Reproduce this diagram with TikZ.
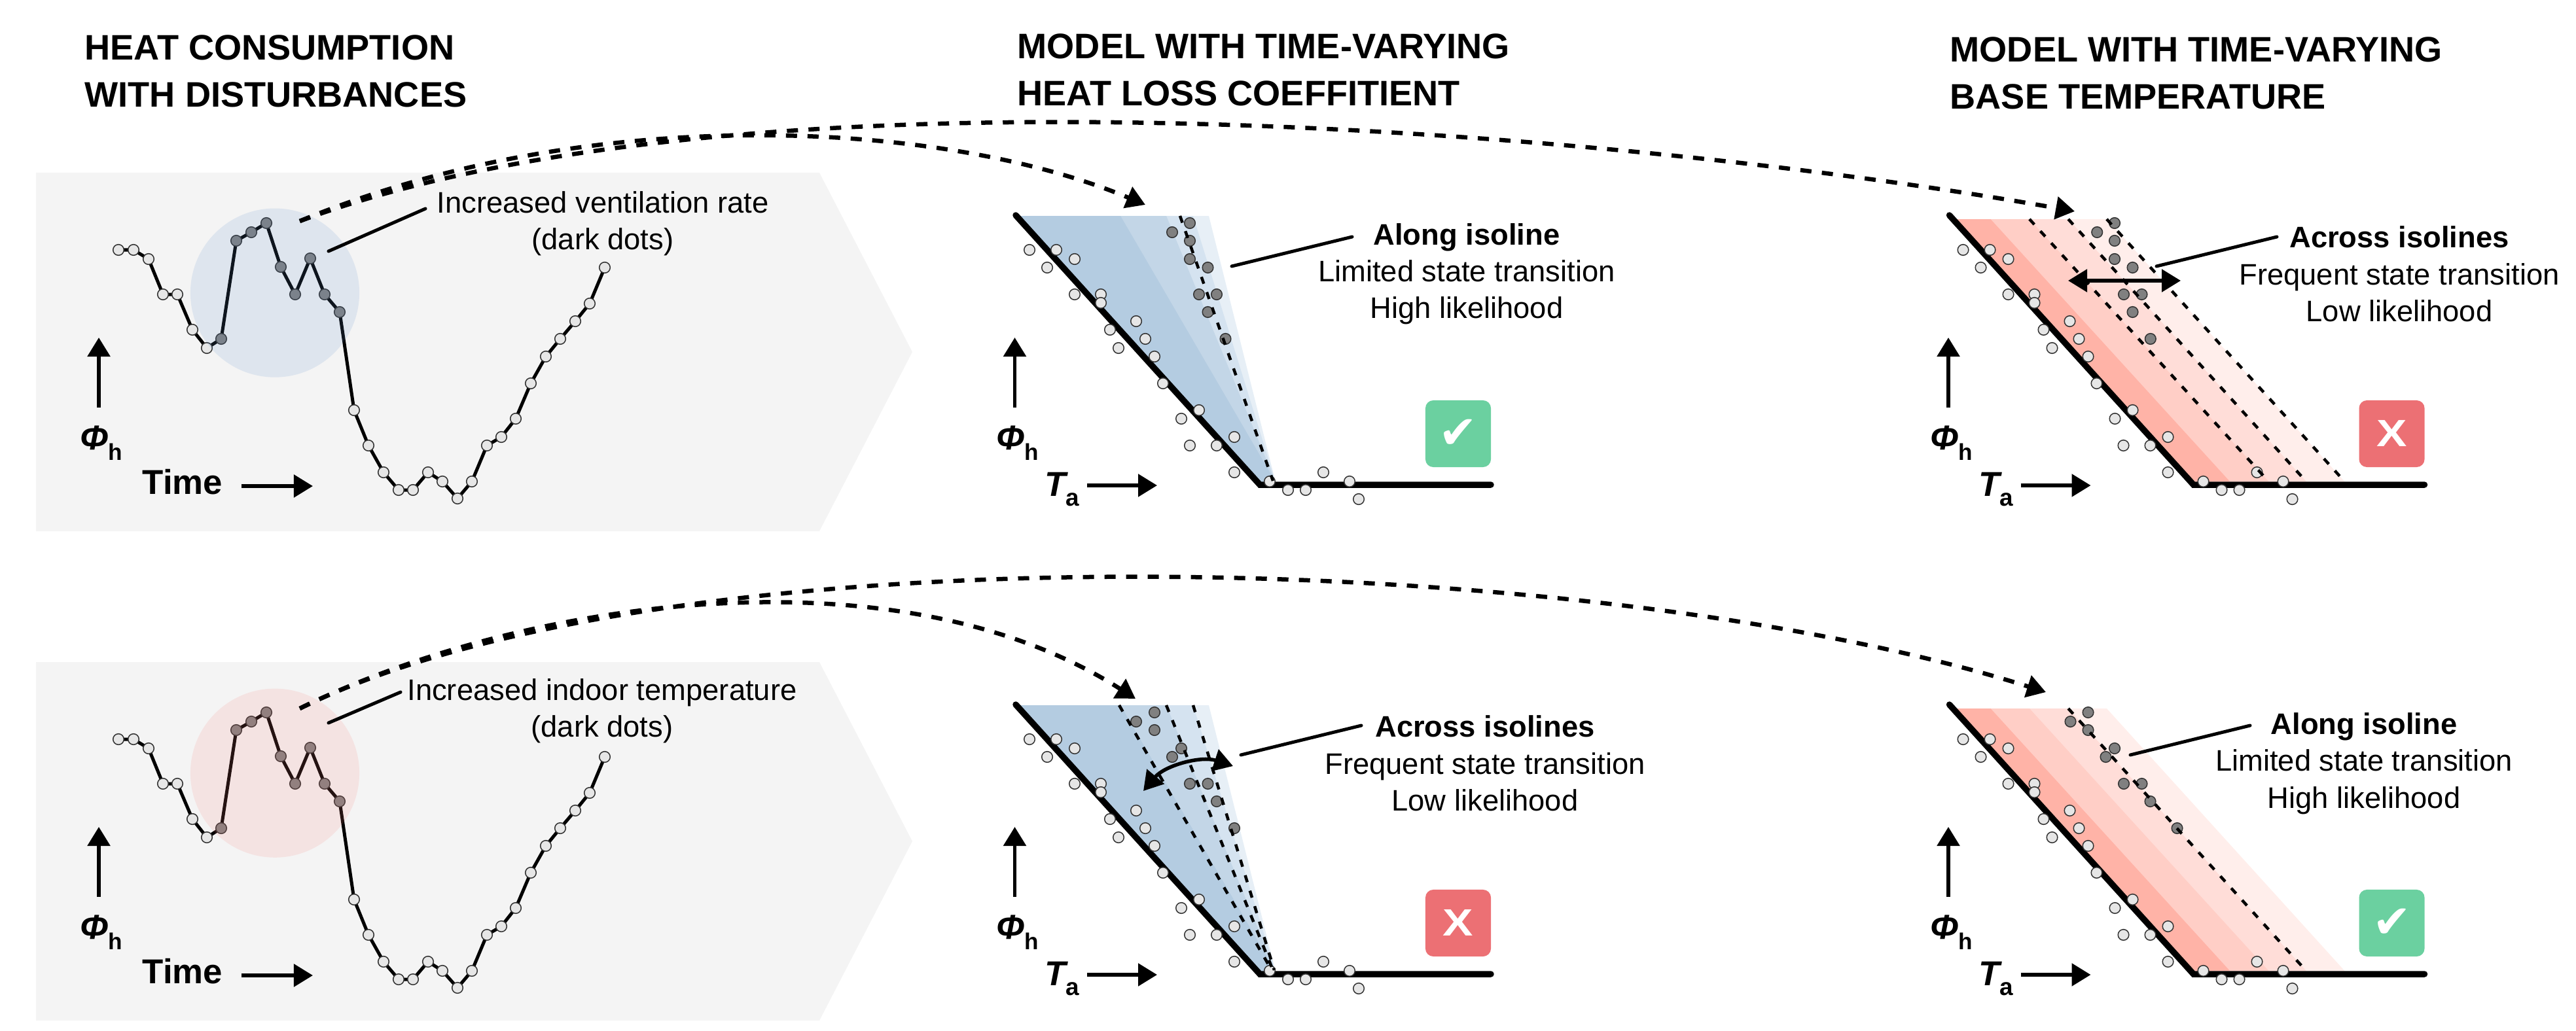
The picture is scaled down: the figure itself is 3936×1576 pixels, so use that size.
\documentclass[tikz,border=0pt]{standalone}
\usepackage{fontspec}
\setmainfont{Liberation Sans}
\newfontfamily\checkfont{DejaVu Sans}
\usetikzlibrary{arrows.meta}

\definecolor{panelgrey}{HTML}{F4F4F4}
\definecolor{dotlight}{HTML}{E6E6E6}
\definecolor{dotdark}{HTML}{808080}
\definecolor{hiblue}{HTML}{6190CC}
\definecolor{hired}{HTML}{FA827C}
\definecolor{blueA}{HTML}{B4CCE1}
\definecolor{blueB}{HTML}{C3D6E7}
\definecolor{blueC}{HTML}{D5E3F0}
\definecolor{blueD}{HTML}{E7EFF6}
\definecolor{redA}{HTML}{FFB3A7}
\definecolor{redB}{HTML}{FFCEC6}
\definecolor{redC}{HTML}{FFDDD8}
\definecolor{redD}{HTML}{FFEEEB}
\definecolor{okgreen}{HTML}{6BD0A0}
\definecolor{badred}{HTML}{EC7074}

\tikzset{
	titlelabel/.style={font=\fontsize{15.4}{20.5}\selectfont\bfseries,align=left,anchor=west,inner sep=0pt},
	notelabel/.style={font=\fontsize{12.9}{16}\selectfont,align=center,inner sep=0pt},
	axislabel/.style={font=\fontsize{15}{18}\selectfont\bfseries,inner sep=0pt},
	panelshape/.style={fill=panelgrey},
	curveline/.style={line width=0.05cm},
	kinkline/.style={line width=0.095cm,line cap=round,line join=miter},
	axisarrow/.style={->,line width=0.055cm},
	leaderline/.style={line width=0.05cm,line cap=round},
	travelarrow/.style={->,line width=0.065cm,dash pattern=on 0.17cm off 0.16cm},
	isoline/.style={line width=0.045cm,dash pattern=on 0.11cm off 0.137cm},
	bothways/.style={<->,line width=0.055cm},
	whitedot/.style={draw=black!80,fill=dotlight,line width=0.015cm},
	darkdot/.style={draw=black!80,fill=dotdark,line width=0.015cm},
	badgebox/.style={rounded corners=0.12cm,minimum width=1cm,minimum height=1.02cm,inner sep=0pt,text=white},
	crossmark/.style={badgebox,fill=badred,font=\fontsize{16.5}{18}\selectfont\bfseries},
	tickmark/.style={badgebox,fill=okgreen,font=\fontsize{20}{20}\selectfont\checkfont\bfseries},
}

% Curve with disturbance: #1 highlight colour, #2 highlight centre y, #3 name suffix
\newcommand{\heatcurve}[3]{
	\fill[panelshape] (55,264) -- (1252,264) -- (1394,538) -- (1252,812) -- (55,812) -- cycle;
	\draw[curveline] plot coordinates {(181,382) (204,382) (227,396) (249,450) (271,450) (294,504) (316,532) (338,518) (361,368) (384,355) (407,341) (429,408) (451,450) (474,395) (496,450) (519,477) (541,627) (563,681) (586,722) (609,749) (631,749) (654,722) (676,736) (699,762) (721,736) (744,681) (766,668) (788,640) (811,586) (834,545) (856,518) (879,491) (901,464) (924,409)};
	\foreach \x/\y in {181/382,204/382,227/396,249/450,271/450,294/504,316/532,541/627,563/681,586/722,609/749,631/749,654/722,676/736,699/762,721/736,744/681,766/668,788/640,811/586,834/545,856/518,879/491,901/464,924/409}
		\draw[whitedot] (\x,\y) circle (0.083cm);
	\foreach \x/\y in {338/518,361/368,384/355,407/341,429/408,451/450,474/395,496/450,519/477}
		\draw[darkdot] (\x,\y) circle (0.083cm);
	\fill[#1,fill opacity=0.15] (420,#2) circle (1.29cm);
	% Assen
	\draw[axisarrow] (151,623) -- (151,516);
	\node[axislabel] (phi#3) at (155,677) {\phisym};
	\node[axislabel] (time#3) at (279,737) {Time};
	\draw[axisarrow] (369,743) -- (478,743);
}

% Kink, scatter and axes of one model panel, origin at the kink
\newcommand{\modelbase}[1]{
	\draw[kinkline] (-373,-412) -- (0,0) -- (353,0);
	\foreach \x/\y in {-352/-359,-311/-359,-283/-345,-325/-332,-283/-291,-243/-291,-243/-278,-229/-237,-189/-250,-175/-223,-216/-209,-161/-196,-148/-155,-93/-114,-120/-101,-39/-73,-66/-60,-107/-60,-39/-19,15/-5,97/-19,137/-5,43/8,70/8,151/22}
		\draw[whitedot] (\x,\y) circle (0.083cm);
	\draw[axisarrow] (-374.5,-118) -- (-374.5,-225);
	\node[axislabel] (phi#1) at (-370,-64) {\phisym};
	\node[axislabel] (ta#1) at (-302,7) {\tasym};
	\draw[axisarrow] (-264,1) -- (-157,1);
}

\newcommand{\phisym}{{\itshape Φ}\raisebox{-0.3em}{\fontsize{10}{10}\selectfont h}}
\newcommand{\tasym}{{\itshape T}\raisebox{-0.3em}{\fontsize{10.5}{10}\selectfont a}}

\begin{document}
\begin{tikzpicture}[x=0.01cm,y=-0.01cm,>={Triangle[length=0.29cm,width=0.34cm]}]
	\useasboundingbox (0,0) rectangle (3936,1576);

	% Titels
	\node[titlelabel] (titleA) at (129,109) {HEAT CONSUMPTION\\WITH DISTURBANCES};
	\node[titlelabel] (titleB) at (1554,107) {MODEL WITH TIME-VARYING\\HEAT LOSS COEFFITIENT};
	\node[titlelabel] (titleC) at (2979,112) {MODEL WITH TIME-VARYING\\BASE TEMPERATURE};

	% Linker panelen
	\heatcurve{hiblue}{447.6}{A}
	\begin{scope}[shift={(0,748)}]
		\heatcurve{hired}{433.7}{B}
	\end{scope}
	\node[notelabel] (noteA) at (921,342) {Increased ventilation rate\\(dark dots)};
	\node[notelabel] (noteB) at (920,1087) {Increased indoor temperature\\(dark dots)};
	\coordinate (leadAa) at (502,384);
	\coordinate (leadAb) at (650,319);
	\coordinate (leadBa) at (502,1105);
	\coordinate (leadBb) at (612,1058);
	\draw[leaderline] (leadAa) -- (leadAb);
	\draw[leaderline] (leadBa) -- (leadBb);

	% Bovenste rij, warmteverliescoefficient
	\begin{scope}[shift={(1925,741)}]
		\fill[blueD] (-373,-411) -- (-78,-411) -- (24,-4) -- (-2,-2) -- cycle;
		\fill[blueC] (-373,-411) -- (-102,-411) -- (24,-4) -- (-2,-2) -- cycle;
		\fill[blueB] (-373,-411) -- (-143,-411) -- (24,-4) -- (-2,-2) -- cycle;
		\fill[blueA] (-373,-411) -- (-213,-411) -- (24,-4) -- (-2,-2) -- cycle;
		\modelbase{C}
		\foreach \x/\y in {-107/-400,-134/-386,-107/-373,-107/-345,-79.5/-332,-93/-291,-66/-291,-79.5/-264,-52.5/-223}
			\draw[darkdot] (\x,\y) circle (0.083cm);
		\draw[isoline] (-122,-411) -- (20,-6);
		\node[tickmark] (badgeC) at (303,-78) {✔};
	\end{scope}
	\node[notelabel] (noteC) at (2241,419) {\textbf{Along isoline}\\Limited state transition\\High likelihood};
	\coordinate (leadCa) at (1882,407);
	\coordinate (leadCb) at (2066,362);
	\draw[leaderline] (leadCa) -- (leadCb);

	% Bovenste rij, basistemperatuur
	\begin{scope}[shift={(3351.5,741)}]
		\fill[redD] (-369,-406) -- (-132.6,-406) -- (230.9,-5) -- (-2,-5) -- cycle;
		\fill[redC] (-369,-406) -- (-191.3,-406) -- (172.2,-5) -- (-2,-5) -- cycle;
		\fill[redB] (-369,-406) -- (-250.6,-406) -- (114.8,-5) -- (-2,-5) -- cycle;
		\fill[redA] (-369,-406) -- (-310,-406) -- (55.5,-5) -- (-2,-5) -- cycle;
		\modelbase{D}
		\foreach \x/\y in {-120.5/-400,-147.3/-386,-120.5/-373,-120.5/-345,-93/-332,-106.5/-291,-79/-291,-93/-264,-65.7/-223}
			\draw[darkdot] (\x,\y) circle (0.083cm);
		\draw[isoline] (-250.6,-406) -- (114.8,-5);
		\draw[isoline] (-191.3,-406) -- (172.2,-5);
		\draw[isoline] (-132.6,-406) -- (230.9,-5);
		\node[crossmark] (badgeD) at (303,-78) {\scalebox{1.2}[1]{X}};
	\end{scope}
	\coordinate (moveDa) at (3160,429);
	\coordinate (moveDb) at (3332,429);
	\draw[bothways] (moveDa) -- (moveDb);
	\node[notelabel] (noteD) at (3666,419) {\textbf{Across isolines}\\Frequent state transition\\Low likelihood};
	\coordinate (leadDa) at (3295,407);
	\coordinate (leadDb) at (3479,362);
	\draw[leaderline] (leadDa) -- (leadDb);

	% Onderste rij, warmteverliescoefficient
	\begin{scope}[shift={(1925,1489)}]
		\fill[blueD] (-373,-411) -- (-78,-411) -- (24,-4) -- (-2,-2) -- cycle;
		\fill[blueC] (-373,-411) -- (-102,-411) -- (24,-4) -- (-2,-2) -- cycle;
		\fill[blueB] (-373,-411) -- (-143,-411) -- (24,-4) -- (-2,-2) -- cycle;
		\fill[blueA] (-373,-411) -- (-213,-411) -- (24,-4) -- (-2,-2) -- cycle;
		\modelbase{E}
		\foreach \x/\y in {-161/-400,-189/-386,-161/-373,-120/-345,-134/-332,-107/-291,-79.5/-291,-66/-264,-39/-223}
			\draw[darkdot] (\x,\y) circle (0.083cm);
		\draw[isoline] (-215,-411) -- (18,-6);
		\draw[isoline] (-143,-411) -- (20,-6);
		\draw[isoline] (-102,-411) -- (22,-6);
		\node[crossmark] (badgeE) at (303,-78) {\scalebox{1.2}[1]{X}};
	\end{scope}
	\coordinate (moveEa) at (1747,1209);
	\coordinate (moveEb) at (1884,1171);
	\draw[bothways] (moveEa) .. controls (1780,1170) and (1835,1155) .. (moveEb);
	\node[notelabel] (noteE) at (2269,1167) {\textbf{Across isolines}\\Frequent state transition\\Low likelihood};
	\coordinate (leadEa) at (1896,1154);
	\coordinate (leadEb) at (2080,1109);
	\draw[leaderline] (leadEa) -- (leadEb);

	% Onderste rij, basistemperatuur
	\begin{scope}[shift={(3351.5,1489)}]
		\fill[redD] (-369,-406) -- (-132.6,-406) -- (230.9,-5) -- (-2,-5) -- cycle;
		\fill[redC] (-369,-406) -- (-191.3,-406) -- (172.2,-5) -- (-2,-5) -- cycle;
		\fill[redB] (-369,-406) -- (-250.6,-406) -- (114.8,-5) -- (-2,-5) -- cycle;
		\fill[redA] (-369,-406) -- (-310,-406) -- (55.5,-5) -- (-2,-5) -- cycle;
		\modelbase{F}
		\foreach \x/\y in {-161/-400,-188/-386,-161/-373,-120.5/-345,-134/-332,-106.5/-291,-79/-291,-66/-264,-25/-223}
			\draw[darkdot] (\x,\y) circle (0.083cm);
		\draw[isoline] (-191.3,-406) -- (172.2,-5);
		\node[tickmark] (badgeF) at (303,-78) {✔};
	\end{scope}
	\node[notelabel] (noteF) at (3612,1167) {\textbf{Along isoline}\\Limited state transition\\High likelihood};
	\coordinate (leadFa) at (3255,1154);
	\coordinate (leadFb) at (3438,1109);
	\draw[leaderline] (leadFa) -- (leadFb);

	% Gestippelde bogen
	\coordinate (startA) at (458,338);
	\coordinate (startB) at (458,1083);
	\coordinate (endAc) at (1750,313);
	\coordinate (endAd) at (3170,323);
	\coordinate (endBe) at (1735,1068);
	\coordinate (endBf) at (3126,1058);
	\draw[travelarrow] (startA) .. controls (900,155) and (1440,183) .. (endAc);
	\draw[travelarrow] (startA) .. controls (1150,80) and (2513,206) .. (endAd);
	\draw[travelarrow] (startB) .. controls (800,915) and (1370,835) .. (endBe);
	\draw[travelarrow] (startB) .. controls (1030,800) and (2440,840) .. (endBf);
\end{tikzpicture}
\end{document}
